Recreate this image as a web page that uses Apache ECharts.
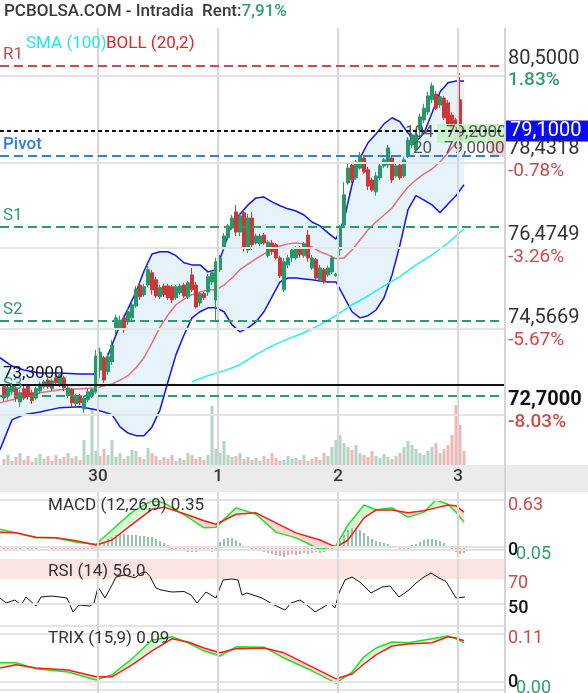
<!DOCTYPE html>
<html><head><meta charset="utf-8">
<script src="https://cdn.jsdelivr.net/npm/echarts@6/dist/echarts.min.js"></script>
<style>html,body{margin:0;padding:0;background:#fff}#c{width:588px;height:693px}</style>
</head><body><div id="c"></div>
<script>
// ---------------- DATA ----------------
const dayLabels = ['30', '1', '2', '3'];
const dayStarts = [23.5, 53.5, 83.5, 113.5];           // bar index where each day begins

// 15-min candles (index 0..115)
const opens = [73.26,73.05,73.14,73.23,72.91,73.21,73.28,73.12,73.00,73.16,73.26,73.41,73.21,73.46,73.30,73.46,73.05,73.19,72.87,73.05,72.75,72.96,73.05,73.14,
73.64,73.92,73.60,73.83,74.56,74.60,74.83,74.74,74.83,75.10,75.58,75.36,75.58,75.86,75.70,75.31,75.56,75.56,75.54,75.29,75.40,75.58,75.31,75.81,75.58,75.17,75.38,75.42,75.65,75.24,
75.93,76.43,76.66,76.88,77.25,76.79,77.23,76.38,77.11,76.54,76.52,76.72,76.25,76.54,76.50,76.20,75.47,76.04,76.20,76.20,76.43,76.25,76.72,75.97,76.16,75.70,75.93,75.81,75.88,75.79,
76.38,76.95,77.91,78.32,78.03,78.25,78.48,78.21,77.98,77.71,78.03,78.30,78.32,78.48,78.07,78.32,78.07,78.55,78.78,78.67,79.12,79.35,79.53,79.81,79.94,79.69,79.85,79.74,79.46,79.35,
79.81,79.17];
const closes = [73.00,73.23,73.28,73.00,73.12,73.00,73.03,72.94,73.21,73.32,73.37,73.26,73.39,73.35,73.53,73.23,73.23,72.89,73.05,72.89,73.00,73.14,73.19,73.96,
74.05,73.41,73.94,74.21,74.83,74.78,74.56,74.97,75.13,75.49,75.31,75.54,75.93,75.47,75.33,75.52,75.36,75.29,75.24,75.54,75.56,75.33,75.63,75.47,75.08,75.38,75.29,75.77,75.86,76.11,
76.20,76.70,76.93,77.11,76.79,77.16,76.43,77.11,76.50,76.70,76.70,76.54,76.56,76.34,76.20,75.79,76.11,76.20,76.38,76.43,76.27,76.52,76.20,76.20,75.74,75.97,75.65,75.97,76.20,75.83,
76.88,77.64,78.25,77.98,78.39,78.53,78.16,77.84,77.75,78.07,78.30,78.44,78.71,77.98,78.30,78.03,78.44,78.89,79.01,79.01,79.42,79.62,79.90,80.13,79.62,79.88,79.40,79.26,79.12,79.08,
78.89,79.10];
const lows = [72.94,72.96,73.07,72.91,72.80,72.96,72.96,72.87,72.96,73.10,73.21,73.21,73.16,73.30,73.26,73.16,73.00,72.80,72.80,72.84,72.66,72.91,73.00,73.10,
73.46,73.35,73.53,73.76,74.44,74.56,74.49,74.67,74.78,75.06,75.24,75.31,75.54,75.36,75.29,75.26,75.31,75.24,75.17,75.24,75.36,75.29,75.26,75.42,75.04,75.10,75.24,75.33,75.58,74.74,
75.88,76.38,76.61,76.84,76.70,76.70,76.34,76.31,76.38,76.50,76.47,76.50,76.20,76.27,76.16,75.74,75.42,75.97,76.11,76.16,76.20,76.20,76.11,75.93,75.70,75.65,75.61,75.77,75.83,75.77,
76.25,76.88,77.87,77.91,77.98,78.21,78.12,77.75,77.71,77.62,77.98,78.25,78.25,77.91,78.03,77.98,78.03,78.48,78.71,78.60,78.94,79.28,79.46,79.74,79.58,79.62,79.35,79.21,79.08,79.03,
78.78,78.96];
const highs = [73.32,73.30,73.35,73.28,73.19,73.28,73.32,73.19,73.26,73.37,73.41,73.46,73.44,73.53,73.57,73.51,73.28,73.23,73.10,73.10,73.05,73.21,73.23,74.10,
74.15,73.96,74.03,74.33,74.90,74.88,74.88,75.06,75.17,75.56,75.63,75.61,76.02,75.93,75.77,75.58,75.61,75.61,75.58,75.58,75.61,75.63,75.67,75.97,75.65,75.42,75.42,75.83,75.93,76.20,
76.27,76.77,76.98,77.18,77.41,77.23,77.30,77.20,77.25,76.75,76.75,76.77,76.61,76.61,76.54,76.25,76.20,76.27,76.43,76.47,76.47,76.56,76.84,76.27,76.20,76.04,75.97,76.02,76.25,75.86,
76.95,77.93,78.37,78.39,78.44,78.62,78.55,78.28,78.03,78.16,78.37,78.48,78.78,78.55,78.37,78.39,78.51,78.96,79.05,79.08,79.49,79.72,79.99,80.20,80.01,79.92,79.90,79.81,79.53,79.40,
80.42,79.21];
const volumes = [6,10,4,8,12,5,9,3,7,11,6,9,4,10,6,8,12,7,9,5,25,10,56,14,
9,16,10,25,8,12,6,9,15,14,8,6,17,12,9,5,8,6,10,4,7,5,12,10,6,8,5,10,59,16,
12,24,10,8,9,12,6,8,5,7,4,9,6,12,7,4,5,9,6,7,5,10,4,6,8,5,12,9,18,25,
30,22,18,15,20,12,10,8,14,9,7,11,8,6,9,12,18,24,20,16,12,10,14,18,22,12,16,20,30,60,
40,14];

// Bollinger (20,2) and SMA(100)
const bollX = [-1,2,5,9,14,19,23,25,27,29,31,33,35,37,39,41,43,45,47,49,51,53,55,57,59,61,63,65,67,69,71,73,75,77,79,81,83,85,87,89,91,93,95,97,99,101,103,105,107,109,111,113,115];
const bollUpper = [73.92,73.73,73.64,73.57,73.57,73.55,73.55,73.76,74.21,74.67,75.04,75.42,75.90,76.29,76.34,76.34,76.25,76.09,76.04,76.04,75.88,75.93,76.43,77.00,77.20,77.41,77.57,77.59,77.48,77.39,77.32,77.27,77.18,77.02,76.93,76.77,76.63,77.07,77.87,78.48,78.83,79.03,79.26,79.40,79.31,79.05,78.85,79.05,79.51,79.99,80.20,80.24,80.24];
const bollMid = [72.89,72.96,73.03,73.12,73.19,73.21,73.23,73.28,73.32,73.41,73.51,73.69,73.92,74.26,74.62,74.90,75.13,75.26,75.36,75.42,75.47,75.47,75.58,75.74,75.93,76.06,76.18,76.29,76.38,76.47,76.52,76.54,76.52,76.45,76.34,76.27,76.18,76.20,76.38,76.61,76.84,77.02,77.18,77.34,77.59,77.82,77.98,78.12,78.23,78.39,78.60,78.83,78.94];
const bollLower = [71.82,72.50,72.62,72.68,72.78,72.80,72.73,72.68,72.62,72.34,72.20,72.14,72.14,72.34,72.73,73.37,73.99,74.44,74.83,74.97,75.06,75.06,74.97,74.67,74.51,74.60,74.74,74.97,75.31,75.65,75.74,75.74,75.72,75.70,75.67,75.65,75.65,75.31,74.97,74.83,74.88,75.01,75.29,75.81,76.50,77.30,77.62,77.52,77.41,77.23,77.43,77.62,77.87];
const smaX = [47,51,55,59,63,67,71,75,79,83,87,91,95,99,103,107,111,115];
const sma100 = [73.37,73.51,73.62,73.76,73.99,74.19,74.35,74.49,74.67,74.88,75.13,75.33,75.56,75.77,76.04,76.27,76.54,76.86];

// pivot levels
const levelNames = ['R1', 'Pivot', 'S1', 'S2', 'S3'];
const levelValues = [80.5, 78.4318, 76.4749, 74.5669, 72.7];
const levelLineAt = [80.58, 78.53, 76.91, 74.76, 73.05];
const levelPct = ['1.83%', '-0.78%', '-3.26%', '-5.67%', '-8.03%'];
const lastPrice = 79.1;
const refPrice = 73.3;
const priceGrid = [80.35, 78.37, 76.44, 74.58, 72.62];

// MACD (12,26,9)
const macdX = [-1,3,8,13,18,23,27,32,37,40,46,50,53,58,63,68,73,79,83,86,90,93,97,101,105,108,111,113,115];
const macdLine = [0.29,0.24,0.17,0.17,0.11,0.08,0.28,0.53,0.69,0.66,0.46,0.31,0.32,0.59,0.50,0.25,0.17,0.01,0.06,0.35,0.63,0.56,0.59,0.46,0.53,0.70,0.64,0.53,0.39];
const macdSignal = [0.25,0.24,0.18,0.17,0.13,0.07,0.14,0.36,0.57,0.60,0.49,0.41,0.36,0.50,0.52,0.38,0.24,0.14,0.04,0.14,0.45,0.56,0.56,0.52,0.55,0.59,0.63,0.62,0.53];
const macdHist = [-0.02,-0.03,-0.02,-0.03,-0.02,-0.01,-0.02,-0.03,-0.02,-0.01,0.01,-0.01,-0.02,-0.03,-0.02,-0.03,-0.02,-0.03,-0.04,-0.03,-0.04,-0.03,-0.02,0.01,
0.03,0.05,0.08,0.1,0.12,0.13,0.13,0.12,0.12,0.12,0.11,0.11,0.1,0.1,0.08,0.06,0.04,0.02,-0.02,-0.03,-0.04,-0.04,-0.05,-0.05,-0.05,-0.04,-0.04,-0.04,-0.05,-0.03,
0.05,0.08,0.09,0.09,0.07,0.04,0.01,-0.01,-0.02,-0.03,-0.04,-0.05,-0.06,-0.07,-0.08,-0.09,-0.1,-0.08,-0.07,-0.08,-0.07,-0.06,-0.07,-0.06,-0.05,-0.06,-0.05,-0.04,-0.02,-0.01,
0.06,0.12,0.17,0.19,0.19,0.17,0.14,0.11,0.08,0.06,0.05,0.04,0.03,0.01,0,-0.02,-0.03,-0.02,0.02,0.03,0.05,0.07,0.08,0.08,0.07,0.06,0.04,0.01,-0.03,-0.05,
-0.07,-0.06];
const macdTicks = [0.63, 0];

// RSI (14)
const rsiX = [-1,0.5,2.75,4.25,5.5,8,9.25,12,15.75,17.25,18.75,21.5,22.5,23.5,25.25,27,28,30,32.75,34.25,35.5,36.5,38,39.25,42,45,46.75,48.25,50.5,53,54.75,57,58.5,59.5,60.75,64.5,67.5,70.25,71.75,74,75.75,77.75,79.5,81.5,82.75,83.75,85.25,87,89,91.75,94.5,96.5,98.75,101.25,103,105,106.75,108.75,110.5,111.5,113,115.25];
const rsiValues = [54.8,50.8,53.2,49.2,55.6,48.4,55.6,56.4,54.8,43.6,49.2,48.4,50.8,63.6,54.8,65.2,71.6,73.2,71,74.8,75.6,72,62.8,61.2,59.6,60,57.2,50.8,59.6,54.8,69.2,70,69.2,57.2,58.8,54.8,49.2,45.2,50.8,53.2,49.2,43.6,46.8,50.8,47,58.8,69.2,71.6,67.5,58.8,63.6,64.4,55.6,61.2,66.8,71.6,74.8,70.8,68,62.8,54.8,55.6];
const rsiTicks = [70, 50];

// TRIX (15,9)
const trixX = [-1,3,8,16,23,27,32,37,42,46,50,54,58,65,70,77,83,87,90,93,97,101,107,111,113,115];
const trixLine = [0.048,0.048,0.033,0.025,0.005,0.018,0.058,0.105,0.113,0.098,0.078,0.065,0.088,0.087,0.06,0.028,-0.003,0.025,0.063,0.085,0.1,0.098,0.108,0.115,0.108,0.098];
const trixSignal = [0.035,0.043,0.035,0.03,0.013,0.013,0.043,0.078,0.108,0.1,0.085,0.073,0.083,0.085,0.073,0.038,0.008,0.02,0.045,0.068,0.09,0.095,0.098,0.113,0.11,0.103];
const trixTicks = [0.11, 0];

// ---------------- CHART ----------------
const F = 'Roboto';
const UP = '#289868', DOWN = '#cc3838';
const X_MIN = -1, X_MAX = 125.25;
const fmt = v => v.toFixed(4).replace('.', ',');
const pts = (xs, ys) => xs.map((x, i) => [x, ys[i]]);
const segs = (xs, a, b) => xs.slice(0, -1).map((x, i) => [x, xs[i + 1], a[i], b[i], a[i + 1], b[i + 1]]);

function bandRender(posColor, negColor) {
  return function (params, api) {
    const x0 = api.value(0), x1 = api.value(1), a0 = api.value(2), b0 = api.value(3), a1 = api.value(4), b1 = api.value(5);
    const d0 = a0 - b0, d1 = a1 - b1;
    const P = (x, y) => api.coord([x, y]);
    const poly = (points, pos) => ({type: 'polygon', shape: {points}, style: {fill: pos ? posColor : negColor, stroke: pos ? posColor : negColor, lineWidth: 0.6}});
    if (d0 * d1 >= 0) {
      return {type: 'group', children: [poly([P(x0, a0), P(x1, a1), P(x1, b1), P(x0, b0)], d0 + d1 >= 0)]};
    }
    const t = d0 / (d0 - d1), xm = x0 + (x1 - x0) * t, ym = a0 + (a1 - a0) * t;
    return {type: 'group', children: [
      poly([P(x0, a0), P(xm, ym), P(x0, b0)], d0 > 0),
      poly([P(xm, ym), P(x1, a1), P(x1, b1)], d1 > 0)
    ]};
  };
}

const GRIDLINE = {color: '#e4e4e4', type: 'solid', width: 2};
const DAYLINE = {color: '#d8d8d8', type: 'solid', width: 2};
const dayLines = dayStarts.map(v => ({xAxis: v, lineStyle: DAYLINE}));
const hLines = (vals, style) => vals.map(v => ({yAxis: v, lineStyle: style || GRIDLINE}));
const ml = (data) => ({silent: true, symbol: ['none', 'none'], label: {show: false}, data});

const levelColors = ['#d04848', '#2f7fe0', '#2a9d70', '#2a9d70', '#2a9d70'];
const levelMarks = levelNames.map((n, k) => ({
  yAxis: levelLineAt[k],
  lineStyle: {color: levelColors[k], type: [9, 5], width: 2},
  label: {show: true, position: 'insideStartTop', distance: 3, formatter: () => n, color: levelColors[k], fontSize: 17, fontFamily: F, fontWeight: k === 1 ? 500 : 'normal'}
}));
const tagMarks = levelValues.map((v, k) => {
  const strong = k === levelValues.length - 1;
  return {
    yAxis: v,
    lineStyle: {color: 'rgba(0,0,0,0)', width: 1, type: 'solid'},
    label: {show: true, position: 'end', distance: 3,
      formatter: () => '{pv|' + fmt(v) + '}\n{pc|' + levelPct[k] + '}',
      rich: {
        pv: {fontSize: 20, fontFamily: F, color: strong ? '#111' : '#333', fontWeight: strong ? 'bold' : 'normal', lineHeight: 22},
        pc: {fontSize: 19, fontFamily: F, color: k === 0 ? '#2e9e6e' : '#d04848', fontWeight: (strong || k === 0) ? 500 : 'normal', lineHeight: 22}
      }}
  };
});
const lastMark = {yAxis: lastPrice, lineStyle: {color: '#111', type: [4, 3], width: 2},
  label: {show: true, position: 'end', distance: 0, formatter: () => fmt(lastPrice), color: '#fff', backgroundColor: '#0c0cf0', fontSize: 20, fontFamily: F, padding: [1, 10, 0, 5]}};
const refMark = {yAxis: refPrice, lineStyle: {color: '#111', type: 'solid', width: 2},
  label: {show: true, position: 'insideStartTop', distance: 3, formatter: () => fmt(refPrice), color: '#111', fontSize: 17, fontFamily: F}};

const hidX = (g) => ({type: 'value', gridIndex: g, min: X_MIN, max: X_MAX, show: false});
const panelAxis = (g, min, max, ticks, labels, colors, shift) => ({
  type: 'value', gridIndex: g, min, max, position: 'right',
  axisLine: {show: false}, axisTick: {show: false}, splitLine: {show: false},
  axisLabel: {show: true, customValues: ticks, margin: 3, fontSize: 17, fontFamily: F,
    formatter: (v) => { const k = ticks.indexOf(v); return k < 0 ? '' : '{s' + k + '|' + labels[k] + '}'; },
    rich: {s0: {color: colors[0], fontSize: 18, fontFamily: F, padding: [shift, 0, 0, 0]},
           s1: {color: colors[1], fontSize: 18, fontFamily: F, fontWeight: 500, padding: [shift, 0, 0, 0]}}}
});

const option = {
  animation: false,
  backgroundColor: '#ffffff',
  textStyle: {fontFamily: F},
  title: [
    {text: '{a|PCBOLSA.COM - Intradia  Rent:}{b|7,91%}', left: 4, top: 3, padding: 0,
      textStyle: {rich: {a: {fontSize: 17, fontWeight: 500, color: '#3a3a3a', fontFamily: F}, b: {fontSize: 17, fontWeight: 500, color: '#2e9e6e', fontFamily: F}}}},
    {text: 'SMA (100)', left: 26, top: 35, padding: 0, textStyle: {fontSize: 17, fontWeight: 'normal', color: '#22e8ee', fontFamily: F}},
    {text: 'BOLL (20,2)', left: 106, top: 35, padding: 0, textStyle: {fontSize: 17, fontWeight: 'normal', color: '#ee2020', fontFamily: F}},
    {text: 'MACD (12,26,9) 0.35', left: 48, top: 497, padding: 0, textStyle: {fontSize: 17, fontWeight: 'normal', color: '#333', fontFamily: F}},
    {text: 'RSI (14) 56.0', left: 48, top: 563, padding: 0, textStyle: {fontSize: 17, fontWeight: 'normal', color: '#333', fontFamily: F}},
    {text: 'TRIX (15,9) 0.09', left: 48, top: 630, padding: 0, textStyle: {fontSize: 17, fontWeight: 'normal', color: '#333', fontFamily: F}}
  ],
  graphic: [
    {type: 'rect', z: -10, shape: {x: 0, y: 465, width: 588, height: 27}, style: {fill: '#ebebeb'}},
    {type: 'line', z: 10, shape: {x1: 505, y1: 28, x2: 505, y2: 693}, style: {stroke: '#d4d4d4', lineWidth: 2}},
    {type: 'rect', z: 4, shape: {x: 437, y: 124, width: 68, height: 19}, style: {fill: 'rgba(190,245,190,0.85)'}},
    {type: 'rect', z: 4, shape: {x: 490, y: 141, width: 15, height: 16}, style: {fill: 'rgba(248,200,200,0.85)'}},
    {type: 'text', z: 5, x: 405, y: 133, style: {text: '104', fill: '#555', font: '17px Roboto', verticalAlign: 'middle'}},
    {type: 'text', z: 5, x: 446, y: 133, style: {text: '79,2000', fill: '#555', font: '17px Roboto', verticalAlign: 'middle'}},
    {type: 'text', z: 5, x: 413, y: 149, style: {text: '20', fill: '#555', font: '17px Roboto', verticalAlign: 'middle'}},
    {type: 'text', z: 5, x: 444, y: 149, style: {text: '79,0000', fill: '#555', font: '17px Roboto', verticalAlign: 'middle'}},
    {type: 'text', z: 10, x: 516, y: 554, style: {text: '0.05', fill: '#2e9e6e', font: '18px Roboto', verticalAlign: 'middle'}},
    {type: 'text', z: 10, x: 516, y: 688, style: {text: '0.00', fill: '#2e9e6e', font: '18px Roboto', verticalAlign: 'middle'}}
  ],
  grid: [
    {left: 0, top: 28, width: 505, height: 437},
    {left: 0, top: 395, width: 505, height: 70},
    {left: 0, top: 492, width: 505, height: 66},
    {left: 0, top: 559, width: 505, height: 65},
    {left: 0, top: 624, width: 505, height: 69}
  ],
  xAxis: [
    {type: 'value', gridIndex: 0, min: X_MIN, max: X_MAX, axisLine: {show: false}, axisTick: {show: false}, splitLine: {show: false},
      axisLabel: {show: true, customValues: dayStarts, margin: 3, fontSize: 17, fontWeight: 500, color: '#333', fontFamily: F,
        formatter: (v) => { const k = dayStarts.indexOf(v); return k < 0 ? '' : dayLabels[k]; }}},
    hidX(1), hidX(2), hidX(3), hidX(4)
  ],
  yAxis: [
    {type: 'value', gridIndex: 0, min: 71.47, max: 81.45, show: false},
    {type: 'value', gridIndex: 1, min: 0, max: 70, show: false},
    panelAxis(2, -0.112, 0.812, macdTicks, ['0.63', '0'], ['#d04848', '#111'], 0),
    {type: 'value', gridIndex: 2, min: -0.11, max: 0.55, show: false},
    panelAxis(3, 34, 86, rsiTicks, ['70', '50'], ['#d04848', '#111'], 8),
    panelAxis(4, -0.0275, 0.145, trixTicks, ['0.11', '0'], ['#d04848', '#111'], 0)
  ],
  series: [
    {type: 'custom', name: 'bollFill', xAxisIndex: 0, yAxisIndex: 0, z: 1, silent: true,
      renderItem: bandRender('#e6f3fb', '#e6f3fb'), encode: {x: [0, 1], y: [2, 3, 4, 5]},
      data: segs(bollX, bollUpper, bollLower)},
    {type: 'line', name: 'bollLower', xAxisIndex: 0, yAxisIndex: 0, z: 2, symbol: 'none', silent: true,
      lineStyle: {color: '#1414f0', width: 1.5}, data: pts(bollX, bollLower),
      markLine: ml([...hLines(priceGrid), ...dayLines])},
    {type: 'line', name: 'bollUpper', xAxisIndex: 0, yAxisIndex: 0, z: 2, symbol: 'none', silent: true,
      lineStyle: {color: '#1414f0', width: 1.5}, data: pts(bollX, bollUpper)},
    {type: 'line', name: 'bollMid', xAxisIndex: 0, yAxisIndex: 0, z: 2, symbol: 'none', silent: true,
      lineStyle: {color: '#e86e78', width: 1.5}, data: pts(bollX, bollMid)},
    {type: 'line', name: 'sma100', xAxisIndex: 0, yAxisIndex: 0, z: 2, symbol: 'none', silent: true,
      lineStyle: {color: '#1ff0f0', width: 1.5}, data: pts(smaX, sma100)},
    {type: 'bar', name: 'volume', xAxisIndex: 1, yAxisIndex: 1, z: 2, barWidth: 3, silent: true,
      itemStyle: {color: (p) => closes[p.dataIndex] >= opens[p.dataIndex] ? 'rgba(128,184,155,0.6)' : 'rgba(236,130,130,0.6)'},
      data: volumes.map((v, i) => [i, v])},
    {type: 'candlestick', name: 'price', xAxisIndex: 0, yAxisIndex: 0, z: 3, barWidth: 3, silent: true,
      itemStyle: {color: UP, color0: DOWN, borderColor: UP, borderColor0: DOWN, borderWidth: 1},
      data: opens.map((o, i) => [i, o, closes[i], lows[i], highs[i]]),
      markLine: {silent: true, symbol: ['none', 'none'], data: [...levelMarks, refMark, lastMark, ...tagMarks]}},
    {type: 'custom', name: 'macdFill', xAxisIndex: 2, yAxisIndex: 2, z: 1, silent: true,
      renderItem: bandRender('#d6fbd6', '#fbd6d6'), encode: {x: [0, 1], y: [2, 3, 4, 5]},
      data: segs(macdX, macdLine, macdSignal)},
    {type: 'bar', name: 'hist', xAxisIndex: 2, yAxisIndex: 3, z: 2, barWidth: 2, silent: true,
      itemStyle: {color: (p) => macdHist[p.dataIndex] >= 0 ? '#93c4a9' : '#e9a3a3'},
      data: macdHist.map((v, i) => [i, v]),
      markLine: ml([{yAxis: 0, lineStyle: GRIDLINE}])},
    {type: 'line', name: 'macd', xAxisIndex: 2, yAxisIndex: 2, z: 3, symbol: 'none', silent: true,
      lineStyle: {color: '#22e022', width: 1.5}, data: pts(macdX, macdLine),
      markLine: ml([...hLines([0.7, 0]), ...dayLines])},
    {type: 'line', name: 'signal', xAxisIndex: 2, yAxisIndex: 2, z: 3, symbol: 'none', silent: true,
      lineStyle: {color: '#ff1a1a', width: 1.5}, data: pts(macdX, macdSignal)},
    {type: 'line', name: 'rsi', xAxisIndex: 3, yAxisIndex: 4, z: 3, symbol: 'none', silent: true,
      lineStyle: {color: '#111', width: 1}, data: pts(rsiX, rsiValues),
      markArea: {silent: true, itemStyle: {color: '#fde4e4'}, data: [[{yAxis: 70}, {yAxis: 86}]]},
      markLine: ml([...hLines([50]), ...dayLines])},
    {type: 'custom', name: 'trixFill', xAxisIndex: 4, yAxisIndex: 5, z: 1, silent: true,
      renderItem: bandRender('#d6fbd6', '#fbd6d6'), encode: {x: [0, 1], y: [2, 3, 4, 5]},
      data: segs(trixX, trixLine, trixSignal)},
    {type: 'line', name: 'trix', xAxisIndex: 4, yAxisIndex: 5, z: 3, symbol: 'none', silent: true,
      lineStyle: {color: '#22e022', width: 1.5}, data: pts(trixX, trixLine),
      markLine: ml([...hLines([0.142, 0.1175, 0, -0.02]), ...dayLines])},
    {type: 'line', name: 'trixSignal', xAxisIndex: 4, yAxisIndex: 5, z: 3, symbol: 'none', silent: true,
      lineStyle: {color: '#ff1a1a', width: 1.5}, data: pts(trixX, trixSignal)}
  ]
};

const chart = echarts.init(document.getElementById('c'), null, {renderer: 'canvas'});
chart.setOption(option);
</script>
</body></html>
